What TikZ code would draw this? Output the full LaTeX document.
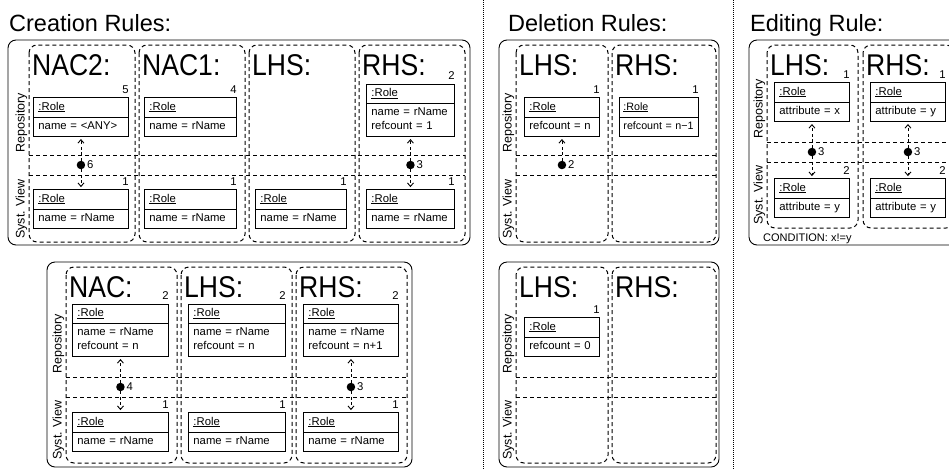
\documentclass[tikz,border=0pt]{standalone}
\usepackage{fontspec}
\setmainfont{Liberation Sans}
\newfontfamily\headfont[FakeStretch=0.885]{Liberation Sans}
\usetikzlibrary{shapes.multipart, arrows.meta, positioning}

\tikzset{
  outer/.style={draw, line width=0.9pt, rounded corners=8pt},
  column/.style={draw, line width=1pt, dash pattern=on 4pt off 3pt, rounded corners=8pt},
  band/.style={draw, line width=1pt, dash pattern=on 4pt off 3pt},
  sep/.style={draw, line width=0.8pt, dash pattern=on 0.8pt off 1.2pt},
  title/.style={anchor=base west, inner sep=0pt, font=\fontsize{23.5}{28}\selectfont},
  head/.style={anchor=base west, inner sep=0pt, font=\headfont\fontsize{30}{32}\selectfont},
  side/.style={rotate=90, anchor=base west, inner sep=0pt, font=\fontsize{12.5}{14}\selectfont},
  role/.style={rectangle split, rectangle split parts=2, draw, line width=0.9pt,
    anchor=south west, inner xsep=5pt, inner ysep=2.5pt, align=left,
    font=\fontsize{11.3}{13.6}\selectfont},
  num/.style={anchor=south east, inner xsep=0pt, inner ysep=3.5pt, font=\fontsize{11.3}{13.6}\selectfont},
  lab/.style={inner sep=1.5pt, font=\fontsize{11.3}{13.6}\selectfont},
  dot/.style={circle, fill, inner sep=0pt, minimum size=8.5pt},
  link/.style={line width=0.9pt, dash pattern=on 3pt off 2.5pt, -{Straight Barb[length=3.5pt, width=6pt]}, shorten >=2pt},
}

\begin{document}
\begin{tikzpicture}[x=1pt, y=-1pt]
\useasboundingbox (0,0) rectangle (949,469);
\clip (0,0) rectangle (949,469);

% separators
\draw[sep] (483,0) -- (483,469);
\draw[sep] (733,0) -- (733,469);

% creation rules, first rule
\node[title] (ctitle) at (9,31) {Creation Rules:};
\draw[outer] (8,40) rectangle (470,245);
\foreach \x in {29,139,249,359}
  \draw[column] (\x,45) rectangle +(106,197);
\draw[band] (29,155) -- (465,155) (29,175) -- (465,175);
\node[head] (cnac2) at (32,75) {NAC2:};
\node[head] (cnac1) at (142,75) {NAC1:};
\node[head] (clhs) at (252,75) {LHS:};
\node[head] (crhs) at (362,75) {RHS:};
\node[side] (crep) at (24.5,153) {Repository};
\node[side] (csys) at (24.5,239) {Syst. View};

\node[role, text width=85pt, label={[num]north east:5}] (nac2rep) at (33,137)
  {\underline{:Role}\strut\nodepart{two}name = <ANY>\strut};
\node[role, text width=85pt, label={[num]north east:1}] (nac2sys) at (33,229)
  {\underline{:Role}\strut\nodepart{two}name = rName\strut};
\node[role, text width=82pt, label={[num]north east:4}] (nac1rep) at (144,137)
  {\underline{:Role}\strut\nodepart{two}name = rName\strut};
\node[role, text width=82pt, label={[num]north east:1}] (nac1sys) at (144,229)
  {\underline{:Role}\strut\nodepart{two}name = rName\strut};
\node[role, text width=81pt, label={[num]north east:1}] (clhssys) at (255,229)
  {\underline{:Role}\strut\nodepart{two}name = rName\strut};
\node[role, text width=78pt, label={[num]north east:2}] (crhsrep) at (366,137)
  {\underline{:Role}\strut\nodepart{two}\strut name = rName\\refcount = 1\strut};
\node[role, text width=78pt, label={[num]north east:1}] (crhssys) at (366,229)
  {\underline{:Role}\strut\nodepart{two}name = rName\strut};

\node[dot, label={[lab]right:6}] (d6) at (nac2rep.south |- 0,165) {};
\draw[link] (d6) -- (d6 |- nac2rep.south);
\draw[link] (d6) -- (d6 |- nac2sys.north);
\node[dot, label={[lab]right:3}] (cd3) at (crhsrep.south |- 0,165) {};
\draw[link] (cd3) -- (cd3 |- crhsrep.south);
\draw[link] (cd3) -- (cd3 |- crhssys.north);

% creation rules, second rule
\draw[outer] (47,262) rectangle (412,467);
\foreach \x in {66,181,296}
  \draw[column] (\x,267) rectangle +(111,196);
\draw[band] (66,377) -- (407,377) (66,397) -- (407,397);
\node[head] (bnac) at (69,297) {NAC:};
\node[head] (blhs) at (184,297) {LHS:};
\node[head] (brhs) at (299,297) {RHS:};
\node[side] (brep) at (61.5,374) {Repository};
\node[side] (bsys) at (61.5,460) {Syst. View};

\node[role, text width=86pt, label={[num]north east:2}] (bnacrep) at (72,357)
  {\underline{:Role}\strut\nodepart{two}\strut name = rName\\refcount = n\strut};
\node[role, text width=86pt, label={[num]north east:1}] (bnacsys) at (72,452)
  {\underline{:Role}\strut\nodepart{two}name = rName\strut};
\node[role, text width=87pt, label={[num]north east:2}] (blhsrep) at (188,357)
  {\underline{:Role}\strut\nodepart{two}\strut name = rName\\refcount = n\strut};
\node[role, text width=87pt, label={[num]north east:1}] (blhssys) at (188,452)
  {\underline{:Role}\strut\nodepart{two}name = rName\strut};
\node[role, text width=85pt, label={[num]north east:2}] (brhsrep) at (303,357)
  {\underline{:Role}\strut\nodepart{two}\strut name = rName\\refcount = n+1\strut};
\node[role, text width=85pt, label={[num]north east:1}] (brhssys) at (303,452)
  {\underline{:Role}\strut\nodepart{two}name = rName\strut};

\node[dot, label={[lab]right:4}] (d4) at (bnacrep.south |- 0,387) {};
\draw[link] (d4) -- (d4 |- bnacrep.south);
\draw[link] (d4) -- (d4 |- bnacsys.north);
\node[dot, label={[lab]right:3}] (bd3) at (brhsrep.south |- 0,387) {};
\draw[link] (bd3) -- (bd3 |- brhsrep.south);
\draw[link] (bd3) -- (bd3 |- brhssys.north);

% deletion rules
\node[title] (dtitle) at (508,31) {Deletion Rules:};
\draw[outer] (499,40) rectangle (719,245);
\draw[column] (516,45) rectangle (608,242);
\draw[column] (612,45) rectangle (716,242);
\draw[band] (516,155) -- (716,155) (516,175) -- (716,175);
\node[head] (dlhs) at (519,75) {LHS:};
\node[head] (drhs) at (615,75) {RHS:};
\node[side] (drep) at (511.5,153) {Repository};
\node[side] (dsys) at (511.5,239) {Syst. View};
\node[role, text width=65pt, label={[num]north east:1}] (dlhsrep) at (524,137)
  {\underline{:Role}\strut\nodepart{two}refcount = n\strut};
\node[role, text width=71pt, inner xsep=4pt, font=\fontsize{10.7}{13.6}\selectfont,
  label={[num]north east:1}] (drhsrep) at (619,137)
  {\underline{:Role}\strut\nodepart{two}\mbox{refcount = n−1}\strut};
\node[dot, label={[lab]right:2}] (d2) at (dlhsrep.south |- 0,165) {};
\draw[link] (d2) -- (d2 |- dlhsrep.south);

\draw[outer] (499,262) rectangle (719,467);
\draw[column] (516,267) rectangle (608,463);
\draw[column] (612,267) rectangle (716,463);
\draw[band] (516,377) -- (716,377) (516,397) -- (716,397);
\node[head] (elhs) at (519,297) {LHS:};
\node[head] (erhs) at (615,297) {RHS:};
\node[side] (erep) at (511.5,374) {Repository};
\node[side] (esys) at (511.5,460) {Syst. View};
\node[role, text width=65pt, label={[num]north east:1}] (elhsrep) at (524,357)
  {\underline{:Role}\strut\nodepart{two}refcount = 0\strut};

% editing rule
\node[title] (ttitle) at (750,31) {Editing Rule:};
\draw[outer] (749,40) rectangle (958,245);
\draw[column] (767,45) rectangle (858,228);
\draw[column] (863,45) rectangle (954,228);
\draw[band] (767,142) -- (954,142) (767,162) -- (954,162);
\node[head] (tlhs) at (770,75) {LHS:};
\node[head] (trhs) at (866,75) {RHS:};
\node[side] (trep) at (762.5,139) {Repository};
\node[side] (tsys) at (762.5,225) {Syst. View};
\node[role, text width=65pt, label={[num]north east:1}] (tlhsrep) at (774,122)
  {\underline{:Role}\strut\nodepart{two}attribute = x\strut};
\node[role, text width=65pt, label={[num]north east:2}] (tlhssys) at (774,218)
  {\underline{:Role}\strut\nodepart{two}attribute = y\strut};
\node[role, text width=65pt, label={[num]north east:1}] (trhsrep) at (870,122)
  {\underline{:Role}\strut\nodepart{two}attribute = y\strut};
\node[role, text width=65pt, label={[num]north east:2}] (trhssys) at (870,218)
  {\underline{:Role}\strut\nodepart{two}attribute = y\strut};
\node[dot, label={[lab]right:3}] (td3) at (tlhsrep.south |- 0,152) {};
\draw[link] (td3) -- (td3 |- tlhsrep.south);
\draw[link] (td3) -- (td3 |- tlhssys.north);
\node[dot, label={[lab]right:3}] (td3b) at (trhsrep.south |- 0,152) {};
\draw[link] (td3b) -- (td3b |- trhsrep.south);
\draw[link] (td3b) -- (td3b |- trhssys.north);
\node[anchor=base west, inner sep=0pt, font=\fontsize{11}{13}\selectfont] (cond) at (763,241) {CONDITION: x!=y};
\end{tikzpicture}
\end{document}
